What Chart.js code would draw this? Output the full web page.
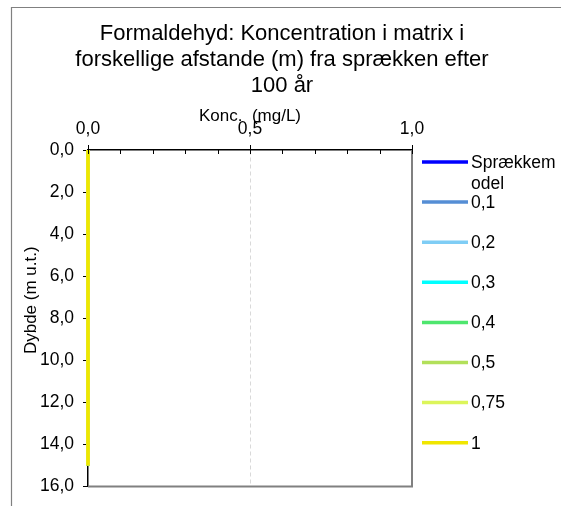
<!DOCTYPE html>
<html>
<head>
<meta charset="utf-8">
<script src="https://cdn.jsdelivr.net/npm/chart.js@4.4.1/dist/chart.umd.min.js"></script>
<style>
  html, body { margin: 0; padding: 0; background: #fff; }
  #wrap { width: 561px; height: 506px; }
</style>
</head>
<body>
<div id="wrap"><canvas id="chart" width="561" height="506"></canvas></div>
<script>
// chart texts
var titleLines = ['Formaldehyd: Koncentration i matrix i', 'forskellige afstande (m) fra sprækken efter', '100 år'];
var xTitle = 'Konc.  (mg/L)';
var yTitle = 'Dybde (m u.t.)';

// series (distance from the fracture, m)
var seriesNames = ['Sprækkemodel', '0,1', '0,2', '0,3', '0,4', '0,5', '0,75', '1'];
var seriesColors = ['#0000ff', '#558ed5', '#7fcdf5', '#00ffff', '#4ee66e', '#b2e05a', '#dcf55a', '#f0e600'];

// depth (m u.t.) and concentration (mg/L) per series
var depths = [0, 2.5, 5, 7.5, 10, 12.5, 15];
var concSpraekke = [0, 0, 0, 0, 0, 0, 0];
var conc01 = [0, 0, 0, 0, 0, 0, 0];
var conc02 = [0, 0, 0, 0, 0, 0, 0];
var conc03 = [0, 0, 0, 0, 0, 0, 0];
var conc04 = [0, 0, 0, 0, 0, 0, 0];
var conc05 = [0, 0, 0, 0, 0, 0, 0];
var conc075 = [0, 0, 0, 0, 0, 0, 0];
var conc1 = [0, 0, 0, 0, 0, 0, 0];
var seriesValues = [concSpraekke, conc01, conc02, conc03, conc04, conc05, conc075, conc1];

// axis ranges
var xMin = 0, xMax = 1, xStep = 0.5, xMinorStep = 0.1;
var yMin = 0, yMax = 16, yStep = 2;

var fontFamily = '"Liberation Sans", Arial, sans-serif';
Chart.defaults.font.family = fontFamily;
Chart.defaults.color = '#000';

function commaLabel(v) {
  return Number(v).toFixed(1).replace('.', ',');
}

function wrapText(ctx, text, maxWidth) {
  var lines = [], line = '';
  for (var i = 0; i < text.length; i++) {
    var test = line + text[i];
    if (line && ctx.measureText(test).width > maxWidth) {
      lines.push(line);
      line = text[i];
    } else {
      line = test;
    }
  }
  lines.push(line);
  return lines;
}

var decorPlugin = {
  id: 'decor',
  beforeDraw: function (chart) {
    var ctx = chart.ctx;
    ctx.save();
    ctx.fillStyle = '#fff';
    ctx.fillRect(0, 0, chart.width, chart.height);
    // outer frame
    ctx.strokeStyle = '#808080';
    ctx.lineWidth = 1.2;
    ctx.beginPath();
    ctx.moveTo(11.5, chart.height);
    ctx.lineTo(11.5, 7.5);
    ctx.lineTo(chart.width, 7.5);
    ctx.stroke();
    // title
    ctx.fillStyle = '#000';
    ctx.font = '22px ' + fontFamily;
    ctx.textAlign = 'center';
    ctx.textBaseline = 'alphabetic';
    for (var i = 0; i < titleLines.length; i++) {
      ctx.fillText(titleLines[i], 282, 40 + i * 26);
    }
    ctx.restore();
  },
  afterDraw: function (chart) {
    var ctx = chart.ctx;
    var area = chart.chartArea;
    var xs = chart.scales.x;
    ctx.save();
    // right and bottom plot border
    ctx.strokeStyle = '#808080';
    ctx.lineWidth = 2;
    ctx.beginPath();
    ctx.moveTo(area.left, area.bottom);
    ctx.lineTo(area.right, area.bottom);
    ctx.lineTo(area.right, area.top);
    ctx.stroke();
    // inner tick marks on the top axis
    ctx.strokeStyle = '#000';
    ctx.lineWidth = 1;
    for (var v = xMin; v <= xMax + 1e-9; v += xMinorStep) {
      var px = Math.round(xs.getPixelForValue(v)) + 0.5;
      ctx.beginPath();
      ctx.moveTo(px, area.top);
      ctx.lineTo(px, area.top + 4);
      ctx.stroke();
    }
    // y axis title
    ctx.fillStyle = '#000';
    ctx.font = '17px ' + fontFamily;
    ctx.translate(36, (area.top + area.bottom) / 2 - 18);
    ctx.rotate(-Math.PI / 2);
    ctx.textAlign = 'center';
    ctx.textBaseline = 'alphabetic';
    ctx.fillText(yTitle, 0, 0);
    ctx.restore();

    // legend
    ctx.save();
    ctx.font = '17.5px ' + fontFamily;
    ctx.textAlign = 'left';
    ctx.textBaseline = 'middle';
    chart.data.datasets.forEach(function (ds, i) {
      var y = area.top + 12 + i * 40.1;
      ctx.strokeStyle = ds.borderColor;
      ctx.lineWidth = 3.5;
      ctx.beginPath();
      ctx.moveTo(area.right + 10, y);
      ctx.lineTo(area.right + 56, y);
      ctx.stroke();
      ctx.fillStyle = '#000';
      var lines = wrapText(ctx, ds.label, 88);
      lines.forEach(function (t, j) {
        ctx.fillText(t, area.right + 59, y + 1 + j * 21);
      });
    });
    ctx.restore();
  }
};

var datasets = seriesNames.map(function (name, i) {
  return {
    label: name,
    data: depths.map(function (d, k) { return { x: seriesValues[i][k], y: d }; }),
    borderColor: seriesColors[i],
    backgroundColor: seriesColors[i],
    borderWidth: 3.5,
    pointRadius: 0,
    fill: false,
    tension: 0,
    clip: false,
    order: seriesNames.length - 1 - i
  };
});

new Chart(document.getElementById('chart'), {
  type: 'line',
  data: { datasets: datasets },
  options: {
    responsive: false,
    animation: false,
    events: [],
    layout: { padding: { left: 12, right: 149, top: 100, bottom: 15 } },
    plugins: {
      legend: { display: false },
      title: { display: false },
      tooltip: { enabled: false }
    },
    scales: {
      x: {
        type: 'linear',
        position: 'top',
        min: xMin,
        max: xMax,
        afterFit: function (scale) { scale.height = 50; },
        ticks: {
          stepSize: xStep,
          padding: 5,
          color: '#000',
          font: { size: 17.5 },
          maxRotation: 0,
          callback: function (v) { return commaLabel(v); }
        },
        grid: {
          color: function (c) { return c.tick && c.tick.value === 0.5 ? '#d9d9d9' : 'rgba(0,0,0,0)'; },
          lineWidth: 1,
          tickColor: '#000',
          tickLength: 5
        },
        border: { color: '#000', width: 1.5, dash: [4, 3] },
        title: {
          display: true,
          text: xTitle,
          color: '#000',
          font: { size: 17 },
          padding: { top: 6, bottom: 0 }
        }
      },
      y: {
        type: 'linear',
        reverse: true,
        min: yMin,
        max: yMax,
        afterFit: function (scale) { scale.width = 76; },
        ticks: {
          stepSize: yStep,
          padding: 9,
          color: '#000',
          font: { size: 17.5 },
          callback: function (v) { return commaLabel(v); }
        },
        grid: {
          drawOnChartArea: false,
          tickColor: '#000',
          tickLength: 5
        },
        border: { color: '#000', width: 1.5 }
      }
    }
  },
  plugins: [decorPlugin]
});
</script>
</body>
</html>
